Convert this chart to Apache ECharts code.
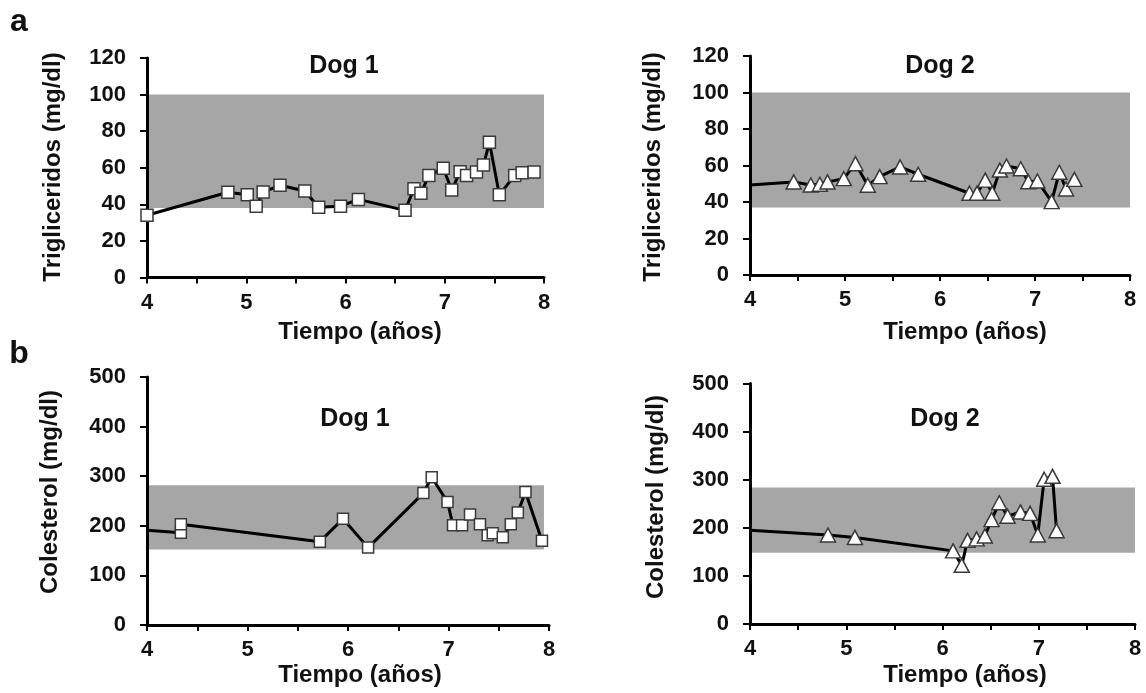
<!DOCTYPE html>
<html>
<head>
<meta charset="utf-8">
<script src="https://cdn.jsdelivr.net/npm/echarts@6/dist/echarts.min.js"></script>
<style>
  html, body { margin: 0; padding: 0; background: #fff; }
  #chart { width: 1146px; height: 693px; }
</style>
</head>
<body>
<div id="chart"></div>
<script>
// Triglycerides, Dog 1 (time in years, mg/dl)
const tgDog1Years = [4.00, 4.815, 5.01, 5.10, 5.17, 5.34, 5.59, 5.73, 5.95, 6.13, 6.60, 6.69, 6.76, 6.84, 6.985, 7.07, 7.155, 7.22, 7.32, 7.39, 7.45, 7.55, 7.705, 7.78, 7.90];
const tgDog1Values = [34, 46.6, 45.2, 39, 46.7, 50.4, 47.3, 38.4, 39, 42.7, 36.7, 48.5, 46, 55.8, 59.7, 47.8, 57.8, 55.8, 57.7, 61.5, 73.9, 45.2, 55.8, 57.3, 57.7];

// Triglycerides, Dog 2 (first value continues from an earlier sample)
const tgDog2Years = [4.00, 4.46, 4.64, 4.735, 4.816, 4.987, 5.11, 5.24, 5.365, 5.58, 5.77, 6.31, 6.39, 6.476, 6.55, 6.63, 6.70, 6.85, 6.93, 7.025, 7.175, 7.256, 7.327, 7.414];
const tgDog2Values = [49.3, 51, 49.3, 49.7, 51, 52.8, 61, 49.2, 53.9, 59.2, 55.2, 44.8, 44.8, 52, 44.8, 57.5, 59.7, 58.2, 51.1, 51.5, 40.2, 56.3, 47.1, 52.4];

// Cholesterol, Dog 1 (first value continues from an earlier sample)
const chDog1Years = [4.00, 4.337, 4.337, 5.72, 5.95, 6.20, 6.75, 6.833, 6.99, 7.045, 7.135, 7.214, 7.313, 7.39, 7.44, 7.54, 7.62, 7.69, 7.766, 7.93];
const chDog1Values = [191, 186, 203, 168, 214, 156, 266, 298, 248, 201, 201, 223, 203, 181, 185, 177, 203, 227, 268, 170];

// Cholesterol, Dog 2 (first value continues from an earlier sample)
const chDog2Years = [4.00, 4.81, 5.09, 6.11, 6.20, 6.26, 6.354, 6.44, 6.51, 6.59, 6.676, 6.81, 6.91, 6.99, 7.056, 7.143, 7.185];
const chDog2Values = [195, 185, 180, 152, 122, 174, 177, 183, 217, 252, 224, 233, 230, 185, 301, 307, 194];

// Reference ranges [low, high] and the time span each shaded band covers
const tgRangeDog1 = [38, 100];
const tgRangeDog2 = [37, 100];
const chRangeDog1 = [152, 282];
const chRangeDog2 = [148, 284];
const bandSpanFull = [4, 8];
const bandSpanChDog1 = [4, 7.95];

// Axis ticks
const xTicks = [4, 5, 6, 7, 8];
const tgTicks = [0, 20, 40, 60, 80, 100, 120];
const chTicks = [0, 100, 200, 300, 400, 500];

const FONT = 'Liberation Sans, Arial, sans-serif';
const BAND = '#a6a6a6';

// Points flagged as "carried" have no marker: the line enters from an earlier sample.
function buildPoints(xs, ys, carriedFirst) {
  return xs.map((x, i) => {
    const item = { value: [x, ys[i]] };
    if (carriedFirst && i === 0) item.symbol = 'none';
    return item;
  });
}

const grids = [
  { left: 147, top: 58, width: 397, height: 219.5 },
  { left: 750, top: 56, width: 380, height: 219 },
  { left: 147, top: 377, width: 402, height: 248 },
  { left: 750, top: 383.5, width: 385, height: 240.5 }
];

function xAxisFor(gi) {
  return {
    gridIndex: gi, type: 'value',
    min: xTicks[0], max: xTicks[xTicks.length - 1], interval: 1,
    z: 2,
    axisLine: { show: true, onZero: false, lineStyle: { color: '#000', width: 3 } },
    axisTick: { show: true, inside: false, length: 6, lineStyle: { color: '#000', width: 2 } },
    minorTick: { show: true, splitNumber: 2, length: 6, lineStyle: { color: '#000', width: 2 } },
    splitLine: { show: false },
    axisLabel: { margin: 14, color: '#111', fontFamily: FONT, fontWeight: 'bold', fontSize: 22 }
  };
}

function yAxisFor(gi, ticks) {
  return {
    gridIndex: gi, type: 'value',
    min: ticks[0], max: ticks[ticks.length - 1], interval: ticks[1] - ticks[0],
    z: 2,
    axisLine: { show: true, lineStyle: { color: '#000', width: 3 } },
    axisTick: { show: true, inside: false, length: 7, lineStyle: { color: '#000', width: 2 } },
    splitLine: { show: false },
    axisLabel: { margin: 21, color: '#111', fontFamily: FONT, fontWeight: 'bold', fontSize: 22 }
  };
}

function bandSeries(gi, range, span) {
  return {
    type: 'line', xAxisIndex: gi, yAxisIndex: gi, data: [], z: 1, silent: true,
    markArea: {
      silent: true,
      itemStyle: { color: BAND },
      data: [[{ coord: [span[0], range[0]] }, { coord: [span[1], range[1]] }]]
    }
  };
}

function dataSeries(gi, xs, ys, symbol, size, carried) {
  return {
    type: 'line', xAxisIndex: gi, yAxisIndex: gi, z: 3,
    data: buildPoints(xs, ys, carried),
    symbol: symbol, symbolSize: size, showAllSymbol: true,
    lineStyle: { color: '#000', width: 3 },
    itemStyle: { color: '#fff', borderColor: '#3a3a3a', borderWidth: 1.5 },
    emphasis: { disabled: true },
    animation: false
  };
}

function txt(x, y, text, size, rot) {
  return {
    type: 'text', x: x, y: y, rotation: rot || 0,
    style: { text: text, fill: '#111', font: 'bold ' + size + 'px ' + FONT, textAlign: 'center', textVerticalAlign: 'middle' }
  };
}

const chart = echarts.init(document.getElementById('chart'), null, { renderer: 'canvas' });
chart.setOption({
  animation: false,
  backgroundColor: '#fff',
  grid: grids,
  xAxis: [xAxisFor(0), xAxisFor(1), xAxisFor(2), xAxisFor(3)],
  yAxis: [yAxisFor(0, tgTicks), yAxisFor(1, tgTicks), yAxisFor(2, chTicks), yAxisFor(3, chTicks)],
  series: [
    bandSeries(0, tgRangeDog1, bandSpanFull),
    bandSeries(1, tgRangeDog2, bandSpanFull),
    bandSeries(2, chRangeDog1, bandSpanChDog1),
    bandSeries(3, chRangeDog2, bandSpanFull),
    dataSeries(0, tgDog1Years, tgDog1Values, 'rect', 12, false),
    dataSeries(1, tgDog2Years, tgDog2Values, 'triangle', [15, 14], true),
    dataSeries(2, chDog1Years, chDog1Values, 'rect', 11, true),
    dataSeries(3, chDog2Years, chDog2Values, 'triangle', [15, 14], true)
  ],
  graphic: [
    txt(19, 22, 'a', 32),
    txt(19, 354, 'b', 32),
    txt(344, 66, 'Dog 1', 25),
    txt(940, 66, 'Dog 2', 25),
    txt(355, 419, 'Dog 1', 25),
    txt(945, 419, 'Dog 2', 25),
    txt(53, 167, 'Trigliceridos (mg/dl)', 24, Math.PI / 2),
    txt(653, 167, 'Trigliceridos (mg/dl)', 24, Math.PI / 2),
    txt(50, 492, 'Colesterol (mg/dl)', 24, Math.PI / 2),
    txt(656, 497, 'Colesterol (mg/dl)', 24, Math.PI / 2),
    txt(360, 332, 'Tiempo (años)', 24),
    txt(965, 332, 'Tiempo (años)', 24),
    txt(360, 675, 'Tiempo (años)', 24),
    txt(965, 675, 'Tiempo (años)', 24)
  ]
});
</script>
</body>
</html>
